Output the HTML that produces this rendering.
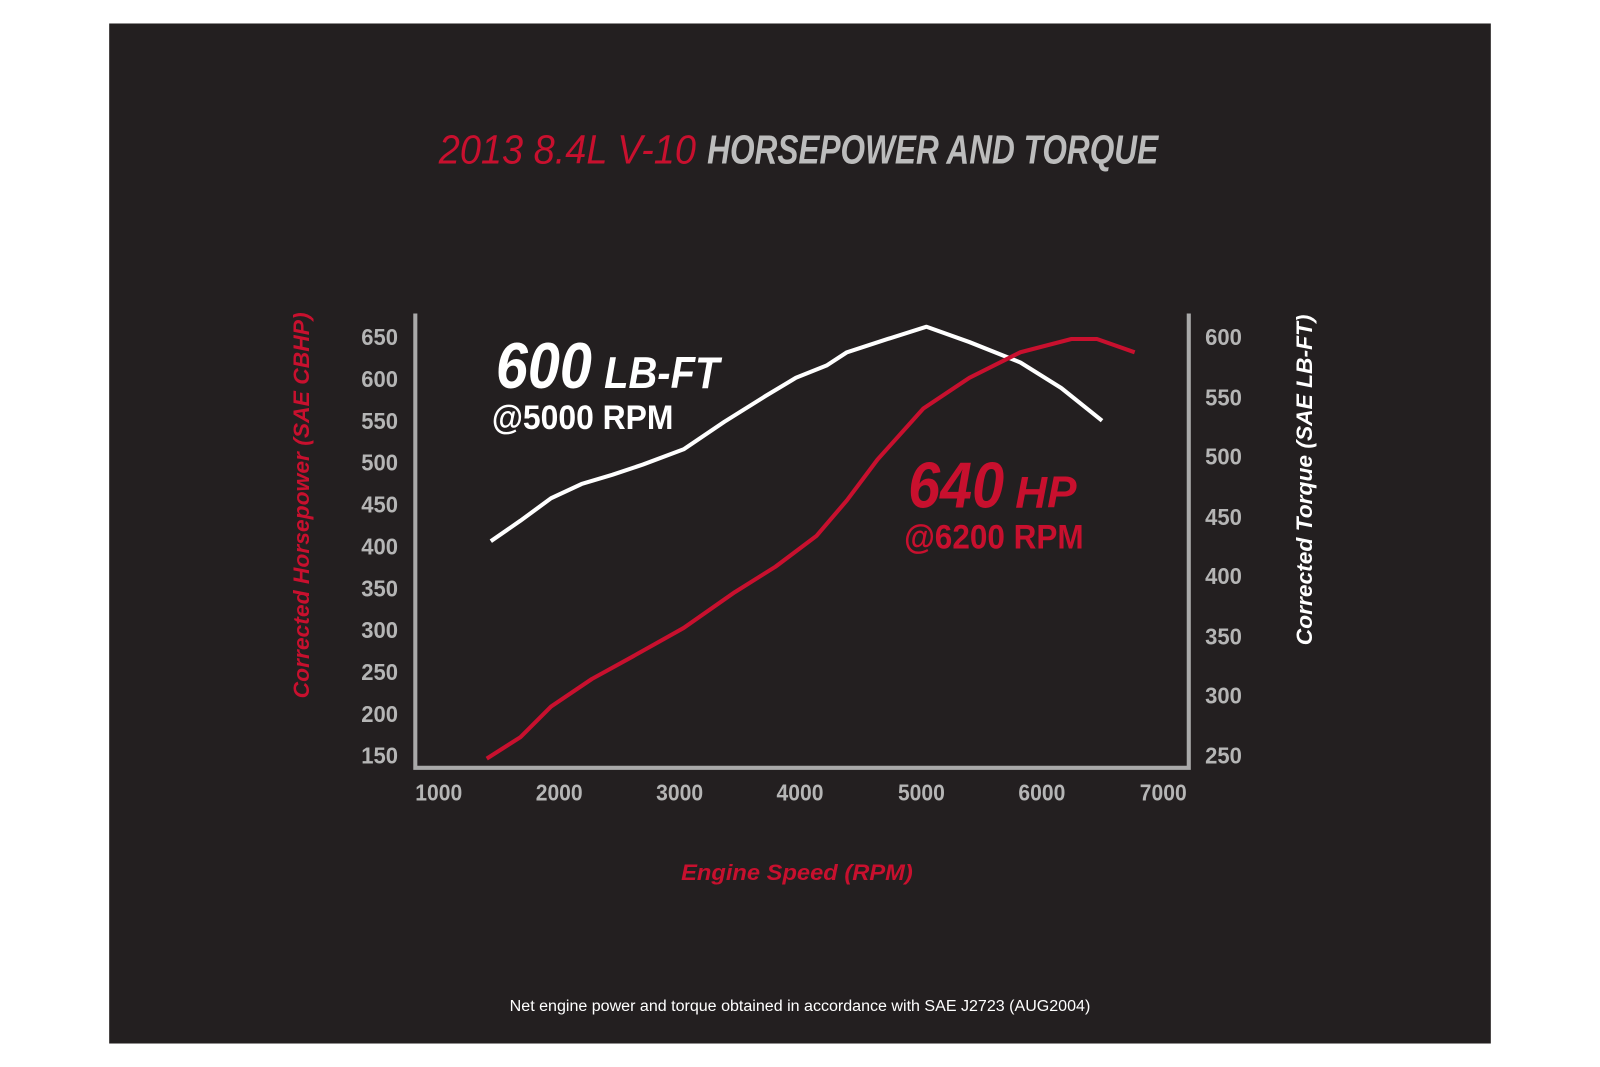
<!DOCTYPE html>
<html><head><meta charset="utf-8"><style>
html,body{margin:0;padding:0;background:#fff;}
svg{display:block;}
text{font-family:"Liberation Sans",sans-serif;}
</style></head><body>
<svg width="1600" height="1067" viewBox="0 0 1568 1045" preserveAspectRatio="none" xmlns="http://www.w3.org/2000/svg">
<rect x="0" y="0" width="1568" height="1045" fill="#fff"/>
<rect x="107" y="23" width="1354" height="999" fill="#231f20"/>
<text x="430" y="160" font-size="40" font-style="italic" fill="#c8102e" textLength="252" lengthAdjust="spacingAndGlyphs">2013 8.4L V-10</text>
<text x="693" y="160" font-size="40" font-style="italic" font-weight="bold" fill="#bcbcbc" textLength="442" lengthAdjust="spacingAndGlyphs">HORSEPOWER AND TORQUE</text>
<polyline points="407,307 407,752 1165,752 1165,307" fill="none" stroke="#a9a9a9" stroke-width="4"/>
<g font-size="23" font-weight="bold" fill="#b5b5b5" text-anchor="end">
<text x="390" y="338" textLength="36" lengthAdjust="spacingAndGlyphs">650</text>
<text x="390" y="379" textLength="36" lengthAdjust="spacingAndGlyphs">600</text>
<text x="390" y="420" textLength="36" lengthAdjust="spacingAndGlyphs">550</text>
<text x="390" y="461" textLength="36" lengthAdjust="spacingAndGlyphs">500</text>
<text x="390" y="502" textLength="36" lengthAdjust="spacingAndGlyphs">450</text>
<text x="390" y="543" textLength="36" lengthAdjust="spacingAndGlyphs">400</text>
<text x="390" y="584" textLength="36" lengthAdjust="spacingAndGlyphs">350</text>
<text x="390" y="625" textLength="36" lengthAdjust="spacingAndGlyphs">300</text>
<text x="390" y="666" textLength="36" lengthAdjust="spacingAndGlyphs">250</text>
<text x="390" y="707" textLength="36" lengthAdjust="spacingAndGlyphs">200</text>
<text x="390" y="748" textLength="36" lengthAdjust="spacingAndGlyphs">150</text>
</g>
<g font-size="23" font-weight="bold" fill="#b5b5b5">
<text x="1181" y="338" textLength="36" lengthAdjust="spacingAndGlyphs">600</text>
<text x="1181" y="397" textLength="36" lengthAdjust="spacingAndGlyphs">550</text>
<text x="1181" y="455" textLength="36" lengthAdjust="spacingAndGlyphs">500</text>
<text x="1181" y="514" textLength="36" lengthAdjust="spacingAndGlyphs">450</text>
<text x="1181" y="572" textLength="36" lengthAdjust="spacingAndGlyphs">400</text>
<text x="1181" y="631" textLength="36" lengthAdjust="spacingAndGlyphs">350</text>
<text x="1181" y="689" textLength="36" lengthAdjust="spacingAndGlyphs">300</text>
<text x="1181" y="748" textLength="36" lengthAdjust="spacingAndGlyphs">250</text>
</g>
<g font-size="23" font-weight="bold" fill="#b5b5b5" text-anchor="middle">
<text x="430" y="784" textLength="46" lengthAdjust="spacingAndGlyphs">1000</text>
<text x="548" y="784" textLength="46" lengthAdjust="spacingAndGlyphs">2000</text>
<text x="666" y="784" textLength="46" lengthAdjust="spacingAndGlyphs">3000</text>
<text x="784" y="784" textLength="46" lengthAdjust="spacingAndGlyphs">4000</text>
<text x="903" y="784" textLength="46" lengthAdjust="spacingAndGlyphs">5000</text>
<text x="1021" y="784" textLength="46" lengthAdjust="spacingAndGlyphs">6000</text>
<text x="1140" y="784" textLength="46" lengthAdjust="spacingAndGlyphs">7000</text>
</g>
<text transform="translate(303,495) rotate(-90)" text-anchor="middle" font-size="22" font-style="italic" font-weight="bold" fill="#c8102e" textLength="378" lengthAdjust="spacingAndGlyphs">Corrected Horsepower (SAE CBHP)</text>
<text transform="translate(1286,470) rotate(-90)" text-anchor="middle" font-size="22" font-style="italic" font-weight="bold" fill="#ffffff" textLength="324" lengthAdjust="spacingAndGlyphs">Corrected Torque (SAE LB-FT)</text>
<text x="781" y="862" text-anchor="middle" font-size="22" font-style="italic" font-weight="bold" fill="#c8102e" textLength="227" lengthAdjust="spacingAndGlyphs">Engine Speed (RPM)</text>
<text x="784" y="990" text-anchor="middle" font-size="15" fill="#ffffff" textLength="569" lengthAdjust="spacingAndGlyphs">Net engine power and torque obtained in accordance with SAE J2723 (AUG2004)</text>
<polyline fill="none" stroke="#ffffff" stroke-width="4" stroke-linejoin="round" points="481,530 510,510 540,488 570,474 600,465 630,455 670,440 710,413 750,388 780,370 810,358 830,345 870,332 908,320 950,335 1000,355 1040,380 1080,412"/>
<polyline fill="none" stroke="#c8102e" stroke-width="4" stroke-linejoin="round" points="477,743 510,722 540,692 580,665 620,643 670,615 720,580 760,555 800,525 830,490 860,450 905,400 950,370 1000,345 1050,332 1075,332 1112,345"/>
<text x="486" y="380" font-size="64" font-style="italic" font-weight="bold" fill="#ffffff" textLength="94" lengthAdjust="spacingAndGlyphs">600</text>
<text x="592" y="380" font-size="44" font-style="italic" font-weight="bold" fill="#ffffff" textLength="113" lengthAdjust="spacingAndGlyphs">LB-FT</text>
<text x="482" y="420" font-size="34" font-weight="bold" fill="#ffffff" textLength="178" lengthAdjust="spacingAndGlyphs">@5000 RPM</text>
<text x="890" y="497" font-size="64" font-style="italic" font-weight="bold" fill="#c8102e" textLength="94" lengthAdjust="spacingAndGlyphs">640</text>
<text x="995" y="497" font-size="44" font-style="italic" font-weight="bold" fill="#c8102e" textLength="60" lengthAdjust="spacingAndGlyphs">HP</text>
<text x="886" y="537" font-size="34" font-weight="bold" fill="#c8102e" textLength="176" lengthAdjust="spacingAndGlyphs">@6200 RPM</text>
</svg>
</body></html>
